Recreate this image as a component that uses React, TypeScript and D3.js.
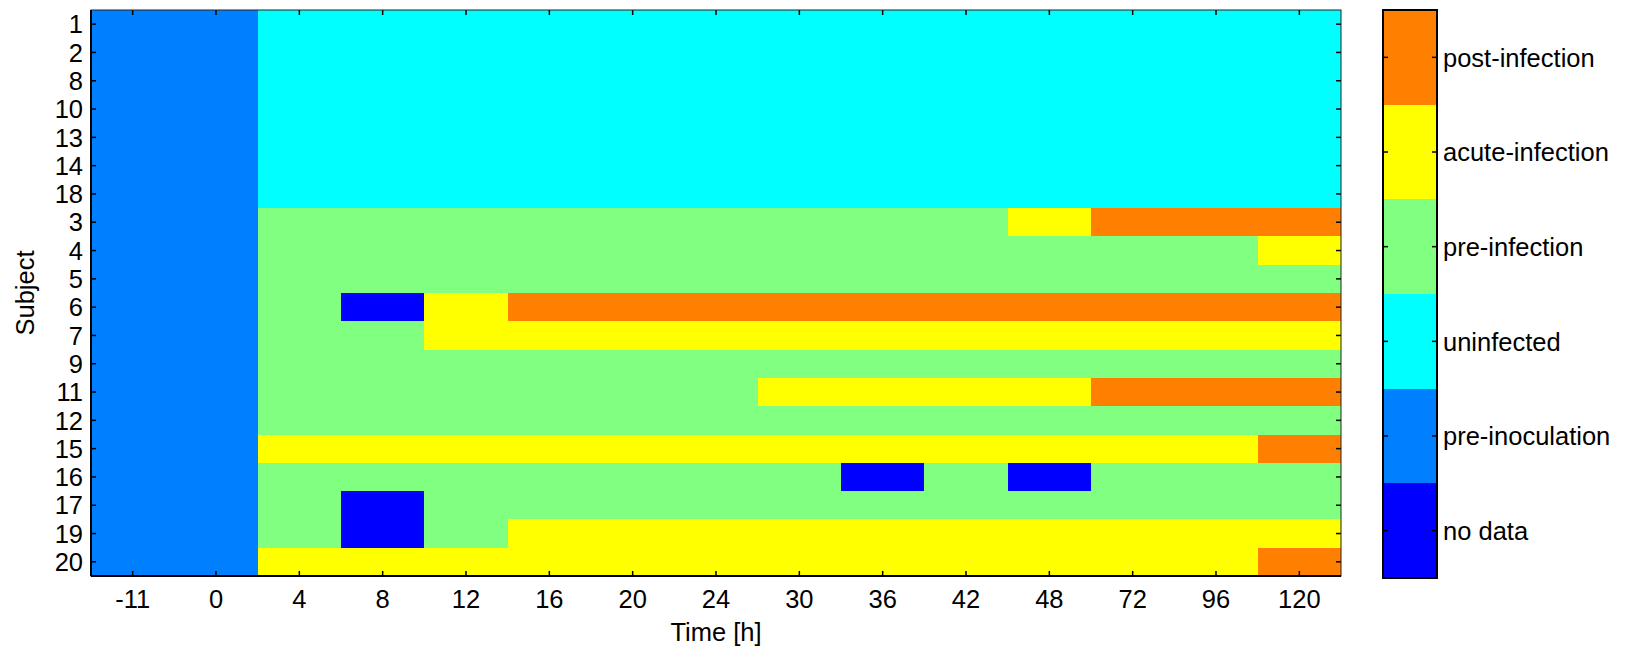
import React from "react";
import * as d3 from "d3";

const subjects = ["1", "2", "8", "10", "13", "14", "18", "3", "4", "5", "6", "7", "9", "11", "12", "15", "16", "17", "19", "20"];
const times = ["-11", "0", "4", "8", "12", "16", "20", "24", "30", "36", "42", "48", "72", "96", "120"];
const stateLabels = ["no data", "pre-inoculation", "uninfected", "pre-infection", "acute-infection", "post-infection"];
const stateColors = ["#0000FF", "#0080FF", "#00FFFF", "#80FF80", "#FFFF00", "#FF8000"];

// state per subject (row) and time (column): 0 no data, 1 pre-inoc, 2 uninfected, 3 pre-inf, 4 acute, 5 post
const states: number[][] = [
  [1, 1, 2, 2, 2, 2, 2, 2, 2, 2, 2, 2, 2, 2, 2],
  [1, 1, 2, 2, 2, 2, 2, 2, 2, 2, 2, 2, 2, 2, 2],
  [1, 1, 2, 2, 2, 2, 2, 2, 2, 2, 2, 2, 2, 2, 2],
  [1, 1, 2, 2, 2, 2, 2, 2, 2, 2, 2, 2, 2, 2, 2],
  [1, 1, 2, 2, 2, 2, 2, 2, 2, 2, 2, 2, 2, 2, 2],
  [1, 1, 2, 2, 2, 2, 2, 2, 2, 2, 2, 2, 2, 2, 2],
  [1, 1, 2, 2, 2, 2, 2, 2, 2, 2, 2, 2, 2, 2, 2],
  [1, 1, 3, 3, 3, 3, 3, 3, 3, 3, 3, 4, 5, 5, 5],
  [1, 1, 3, 3, 3, 3, 3, 3, 3, 3, 3, 3, 3, 3, 4],
  [1, 1, 3, 3, 3, 3, 3, 3, 3, 3, 3, 3, 3, 3, 3],
  [1, 1, 3, 0, 4, 5, 5, 5, 5, 5, 5, 5, 5, 5, 5],
  [1, 1, 3, 3, 4, 4, 4, 4, 4, 4, 4, 4, 4, 4, 4],
  [1, 1, 3, 3, 3, 3, 3, 3, 3, 3, 3, 3, 3, 3, 3],
  [1, 1, 3, 3, 3, 3, 3, 3, 4, 4, 4, 4, 5, 5, 5],
  [1, 1, 3, 3, 3, 3, 3, 3, 3, 3, 3, 3, 3, 3, 3],
  [1, 1, 4, 4, 4, 4, 4, 4, 4, 4, 4, 4, 4, 4, 5],
  [1, 1, 3, 3, 3, 3, 3, 3, 3, 0, 3, 0, 3, 3, 3],
  [1, 1, 3, 0, 3, 3, 3, 3, 3, 3, 3, 3, 3, 3, 3],
  [1, 1, 3, 0, 3, 4, 4, 4, 4, 4, 4, 4, 4, 4, 4],
  [1, 1, 4, 4, 4, 4, 4, 4, 4, 4, 4, 4, 4, 4, 5],
];

const FONT = "'Liberation Sans', Arial, sans-serif";
const FS = 25.5;

export default function App() {
  const left = 91, right = 1341, top = 10, bottom = 576;
  const cbLeft = 1383, cbRight = 1437, cbTop = 10, cbBottom = 578;
  const tick = 5;

  const x = d3.scaleBand<string>().domain(times).range([left, right]).padding(0);
  const y = d3.scaleBand<string>().domain(subjects).range([top, bottom]).padding(0);
  const color = d3.scaleOrdinal<number, string>().domain(d3.range(stateColors.length)).range(stateColors);
  const cb = d3.scaleBand<number>().domain(d3.range(stateLabels.length).reverse()).range([cbTop, cbBottom]);

  const xw = x.bandwidth();
  const yh = y.bandwidth();

  return (
    <div style={{ position: "absolute", left: 0, top: 0 }}>
      <svg width={1631} height={649} style={{ display: "block", background: "#fff" }} fontFamily={FONT}>
        <g shapeRendering="crispEdges">
          {states.map((row, i) =>
            row.map((v, j) => {
              const x0 = Math.round(x(times[j])!);
              const x1 = Math.round(x(times[j])! + xw);
              const y0 = Math.round(y(subjects[i])!);
              const y1 = Math.round(y(subjects[i])! + yh);
              return (
                <rect key={`${i}-${j}`} x={x0} y={y0} width={x1 - x0} height={y1 - y0} fill={color(v)} />
              );
            })
          )}
          {d3.range(stateLabels.length).map((k) => {
            const b0 = Math.round(cb(k)!);
            const b1 = Math.round(cb(k)! + cb.bandwidth());
            return <rect key={k} x={cbLeft} y={b0} width={cbRight - cbLeft} height={b1 - b0} fill={stateColors[k]} />;
          })}
        </g>
        {/* x ticks */}
        {times.map((t) => {
          const cx = x(t)! + xw / 2;
          return (
            <g key={t}>
              <line x1={cx} x2={cx} y1={bottom} y2={bottom - tick} stroke="#000" strokeWidth={1.5} />
              <line x1={cx} x2={cx} y1={top} y2={top + tick} stroke="#000" strokeWidth={1.5} />
              <text x={cx} y={608} textAnchor="middle" fontSize={FS} fill="#000">{t}</text>
            </g>
          );
        })}
        {/* y ticks */}
        {subjects.map((s) => {
          const cy = y(s)! + yh / 2;
          return (
            <g key={s}>
              <line x1={left} x2={left + tick} y1={cy} y2={cy} stroke="#000" strokeWidth={1.5} />
              <line x1={right} x2={right - tick} y1={cy} y2={cy} stroke="#000" strokeWidth={1.5} />
              <text x={83} y={cy} dy="0.36em" textAnchor="end" fontSize={FS} fill="#000">{s}</text>
            </g>
          );
        })}
        <rect x={left} y={top} width={right - left} height={bottom - top} fill="none" stroke="#222" strokeWidth={1} />
        <line x1={left} x2={left} y1={top} y2={bottom} stroke="#000" strokeWidth={2} />
        <line x1={left} x2={right} y1={bottom} y2={bottom} stroke="#000" strokeWidth={2} />
        <text x={(left + right) / 2} y={641} textAnchor="middle" fontSize={FS} fill="#000">Time [h]</text>
        <text
          transform={`translate(34, ${(top + bottom) / 2}) rotate(-90)`}
          textAnchor="middle"
          fontSize={FS}
          fill="#000"
        >
          Subject
        </text>
        {/* colorbar ticks and labels */}
        {d3.range(stateLabels.length).map((k) => {
          const cy = cb(k)! + cb.bandwidth() / 2;
          return (
            <g key={k}>
              <line x1={cbLeft} x2={cbLeft + tick} y1={cy} y2={cy} stroke="#000" strokeWidth={1.5} />
              <line x1={cbRight} x2={cbRight - tick} y1={cy} y2={cy} stroke="#000" strokeWidth={1.5} />
              <text x={1443} y={cy} dy="0.36em" fontSize={FS} fill="#000">{stateLabels[k]}</text>
            </g>
          );
        })}
        <rect x={cbLeft} y={cbTop} width={cbRight - cbLeft} height={cbBottom - cbTop} fill="none" stroke="#000" strokeWidth={2} />
      </svg>
    </div>
  );
}
